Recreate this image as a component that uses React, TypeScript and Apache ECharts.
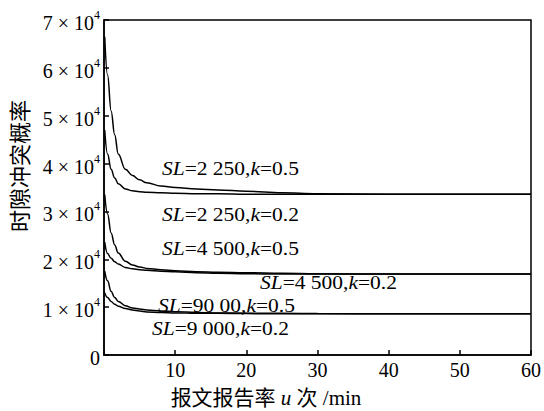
import React, { useEffect, useRef } from "react";
import * as echarts from "echarts";

const xs = [0.1, 0.5, 1, 1.5, 2, 3, 4, 5, 6, 8, 10, 13, 16, 20, 25, 30, 40, 50, 60];
const sl2250k05 = [6.65, 5.85, 5.1, 4.6, 4.2, 3.88, 3.75, 3.66, 3.6, 3.53, 3.5, 3.47, 3.45, 3.42, 3.39, 3.37, 3.36, 3.36, 3.36];
const sl2250k02 = [4.7, 4.2, 3.88, 3.7, 3.58, 3.47, 3.43, 3.41, 3.4, 3.39, 3.38, 3.37, 3.37, 3.36, 3.36, 3.36, 3.36, 3.36, 3.36];
const sl4500k05 = [3.35, 2.95, 2.55, 2.3, 2.13, 1.96, 1.88, 1.84, 1.81, 1.78, 1.76, 1.74, 1.73, 1.72, 1.71, 1.7, 1.69, 1.69, 1.69];
const sl4500k02 = [2.36, 2.12, 2.02, 1.95, 1.9, 1.83, 1.8, 1.78, 1.77, 1.75, 1.74, 1.72, 1.71, 1.7, 1.69, 1.69, 1.69, 1.69, 1.69];
const sl9000k05 = [1.75, 1.55, 1.33, 1.2, 1.12, 1.03, 0.98, 0.96, 0.94, 0.92, 0.905, 0.89, 0.88, 0.875, 0.87, 0.865, 0.86, 0.86, 0.86];
const sl9000k02 = [1.3, 1.2, 1.12, 1.06, 1.02, 0.97, 0.94, 0.92, 0.9, 0.89, 0.88, 0.87, 0.87, 0.865, 0.86, 0.86, 0.86, 0.86, 0.86];
const seriesList = [sl2250k05, sl2250k02, sl4500k05, sl4500k02, sl9000k05, sl9000k02];
const curveLabels = [
  { sl: "=2 250,", k: "=0.5" },
  { sl: "=2 250,", k: "=0.2" },
  { sl: "=4 500,", k: "=0.5" },
  { sl: "=4 500,", k: "=0.2" },
  { sl: "=90 00,", k: "=0.5" },
  { sl: "=9 000,", k: "=0.2" },
];
const labelPos = [
  [162, 168],
  [162, 214],
  [162, 248],
  [260, 282],
  [158, 305],
  [152, 328],
];
const yAxisTitle = "时隙冲突概率";
const xAxisTitleParts = ["报文报告率 ", "u", " 次 /min"];

const SERIF = "Liberation Serif";
const CJK = "Noto Sans CJK SC";

export default function App() {
  const ref = useRef<HTMLDivElement>(null);
  useEffect(() => {
    if (!ref.current) return;
    const chart = echarts.init(ref.current, undefined, { renderer: "svg" });
    const italicRich = {
      i: { fontFamily: SERIF, fontStyle: "italic", fontSize: 19, fill: "#000", color: "#000" },
      r: { fontFamily: SERIF, fontSize: 19, fill: "#000", color: "#000" },
    };
    chart.setOption({
      animation: false,
      backgroundColor: "#fff",
      textStyle: { fontFamily: SERIF },
      grid: {
        left: 104,
        right: 12,
        top: 20,
        bottom: 56,
        show: true,
        borderColor: "#000",
        borderWidth: 1.5,
      },
      xAxis: {
        type: "value",
        min: 0,
        max: 60,
        interval: 10,
        splitLine: { show: false },
        axisLine: { lineStyle: { color: "#000", width: 1.5 } },
        axisTick: { inside: true, length: 5, lineStyle: { color: "#000", width: 1.5 } },
        axisLabel: {
          color: "#000",
          fontFamily: SERIF,
          fontSize: 20,
          margin: 5,
          formatter: (v: number) => (v === 0 ? "" : String(v)),
        },
      },
      yAxis: {
        type: "value",
        min: 0,
        max: 70000,
        interval: 10000,
        splitLine: { show: false },
        axisLine: { show: true, lineStyle: { color: "#000", width: 1.5 } },
        axisTick: { show: true, inside: true, length: 5, lineStyle: { color: "#000", width: 1.5 } },
        axisLabel: {
          color: "#000",
          fontFamily: SERIF,
          fontSize: 20,
          margin: 4,
          formatter: (v: number) => (v === 0 ? "{n|0}" : `{n|${v / 10000} × 10}{s|4}`),
          rich: {
            n: { fontFamily: SERIF, fontSize: 20, color: "#000", lineHeight: 22, padding: [6, 0, 0, 0] },
            s: { fontFamily: SERIF, fontSize: 12, color: "#000", verticalAlign: "top", lineHeight: 22 },
          },
        },
      },
      series: seriesList.map((vals) => ({
        type: "line",
        data: xs.map((x, i) => [x, vals[i] * 10000]),
        smooth: 0.4,
        smoothMonotone: "x",
        showSymbol: false,
        symbol: "none",
        lineStyle: { color: "#000", width: 1.5 },
      })),
      graphic: [
        {
          type: "text",
          x: 18,
          y: 166,
          rotation: Math.PI / 2,
          style: {
            text: yAxisTitle,
            fontFamily: CJK,
            fontSize: 22,
            fill: "#000",
            align: "center",
            verticalAlign: "middle",
          },
        },
        {
          type: "text",
          x: 266,
          y: 398,
          style: {
            text: `{c|${xAxisTitleParts[0]}}{i|${xAxisTitleParts[1]}}{c|${xAxisTitleParts[2]}}`,
            align: "center",
            verticalAlign: "middle",
            rich: {
              c: { fontFamily: SERIF + ", " + CJK, fontSize: 21, fill: "#000", color: "#000" },
              i: { fontFamily: SERIF, fontStyle: "italic", fontSize: 21, fill: "#000", color: "#000" },
            },
          },
        },
        ...curveLabels.map((c, idx) => ({
          type: "text",
          x: labelPos[idx][0],
          y: labelPos[idx][1],
          scaleX: 1.13,
          style: {
            text: `{i|SL}{r|${c.sl}}{i|k}{r|${c.k}}`,
            align: "left",
            verticalAlign: "middle",
            rich: italicRich,
          },
        })),
      ],
    });
    return () => chart.dispose();
  }, []);
  return <div ref={ref} style={{ width: 544, height: 411, position: "absolute", left: 0, top: 0 }} />;
}
